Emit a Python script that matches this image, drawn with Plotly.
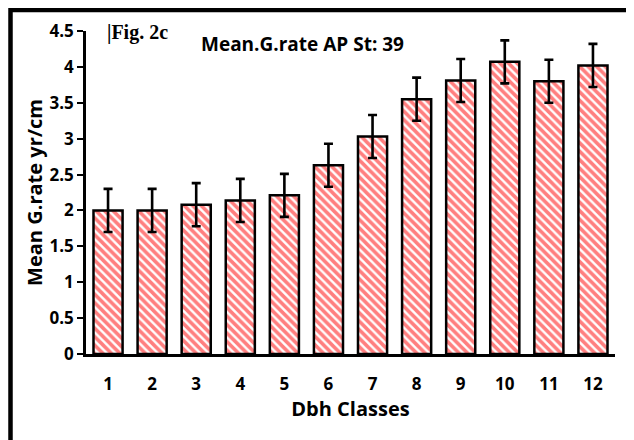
import plotly.graph_objects as go

categories = ["1", "2", "3", "4", "5", "6", "7", "8", "9", "10", "11", "12"]
mean_rate = [2.0, 2.0, 2.08, 2.14, 2.21, 2.63, 3.03, 3.55, 3.81, 4.07, 3.80, 4.02]
err = [0.3, 0.3, 0.3, 0.3, 0.3, 0.3, 0.3, 0.3, 0.3, 0.3, 0.3, 0.3]
y_ticks = [0, 0.5, 1, 1.5, 2, 2.5, 3, 3.5, 4, 4.5]
y_tick_labels = ["0", "0.5", "1", "1.5", "2", "2.5", "3", "3.5", "4", "4.5"]

OFF = 8  # page body margin
W, H = 634 - OFF, 440 - OFF
L, T = 86 - OFF, 31 - OFF
pw = 615 - 86
ph = 354 - 31
R = W - L - pw
B = H - T - ph

def px_x(sx):
    return (sx - OFF - L) / pw

def px_y(sy):
    return (T + ph - (sy - OFF)) / ph

font_fam = "Open Sans"

fig = go.Figure()
fig.add_trace(go.Bar(
    x=categories, y=mean_rate,
    marker=dict(
        color="white",
        line=dict(color="black", width=2.5),
        pattern=dict(shape="\\", fgcolor="#ff0000", bgcolor="white", size=6, solidity=0.6),
    ),
    error_y=dict(type="data", array=err, visible=True, color="black", thickness=2.6, width=4.5),
))

fig.update_layout(
    width=W, height=H,
    margin=dict(l=L, r=R, t=T, b=B),
    paper_bgcolor="white", plot_bgcolor="white",
    bargap=0.34,
    showlegend=False,
    font=dict(family=font_fam, color="black"),
    xaxis=dict(
        showline=True, linecolor="black", linewidth=2.5,
        ticks="", showgrid=False, zeroline=False,
        tickfont=dict(size=17, family=font_fam, weight="bold"),
        ticklabelstandoff=13,
        title=dict(text="<b>Dbh Classes</b>", font=dict(size=20), standoff=8),
    ),
    yaxis=dict(
        range=[0, 4.5], tickvals=y_ticks, ticktext=y_tick_labels,
        showline=True, linecolor="black", linewidth=2.5,
        ticks="outside", ticklen=6, tickwidth=2.2, tickcolor="black",
        showgrid=False, zeroline=False,
        tickfont=dict(size=17, family=font_fam, weight="bold"),
        title=dict(text="<b>Mean G.rate yr/cm</b>", font=dict(size=20), standoff=2),
    ),
    shapes=[dict(
        type="rect", xref="paper", yref="paper",
        x0=px_x(10.5), x1=px_x(631), y0=px_y(460), y1=px_y(10),
        line=dict(color="black", width=4.5), fillcolor="rgba(0,0,0,0)", layer="above",
    )],
    annotations=[
        dict(text="<b>|Fig. 2c</b>", xref="paper", yref="paper",
             x=px_x(105), y=px_y(33), xanchor="left", yanchor="middle",
             showarrow=False, font=dict(family="Liberation Serif", size=20)),
        dict(text="<b>Mean.G.rate AP St: 39</b>", xref="paper", yref="paper",
             x=px_x(199), y=px_y(44), xanchor="left", yanchor="middle",
             showarrow=False, font=dict(family=font_fam, size=19)),
    ],
)

fig.write_html("out.html")
